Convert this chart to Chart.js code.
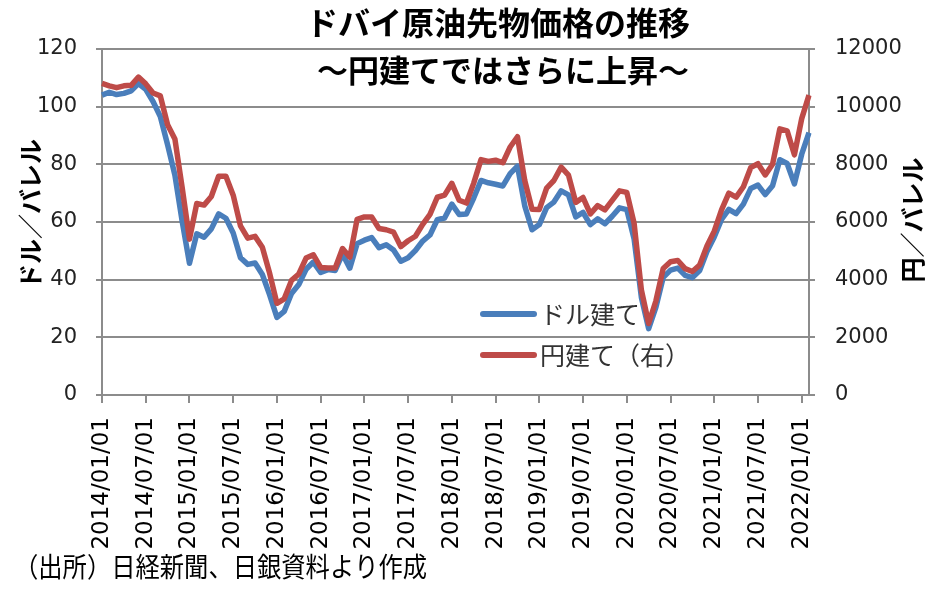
<!DOCTYPE html>
<html>
<head>
<meta charset="utf-8">
<script src="https://cdn.jsdelivr.net/npm/chart.js@4/dist/chart.umd.min.js"></script>
<style>
  body { margin: 0; background: #fff; }
</style>
</head>
<body>
<canvas id="chart" width="946" height="595"></canvas>
<script>
// monthly averages, 2014/01 .. 2022/02
const startYear = 2014;
const usdPrice = [
  104.0, 105.0, 104.2, 104.6, 105.5, 108.0, 106.0, 101.8, 96.6, 86.8, 76.3, 60.2,
  45.7, 55.9, 54.7, 57.6, 62.8, 61.3, 56.2, 47.6, 45.3, 45.8, 41.8, 34.7,
  26.9, 29.0, 35.2, 38.3, 43.6, 46.1, 42.5, 43.5, 43.2, 48.9, 44.0, 52.5,
  53.7, 54.6, 51.1, 52.1, 50.3, 46.4, 47.6, 50.1, 53.4, 55.5, 60.8, 61.4,
  66.2, 62.6, 62.8, 68.3, 74.4, 73.6, 73.1, 72.5, 76.8, 79.4, 65.6, 57.3,
  59.1, 65.0, 66.9, 70.8, 69.4, 61.8, 63.3, 59.1, 61.1, 59.4, 62.0, 64.9,
  64.3, 54.2, 33.9, 23.0, 30.5, 40.8, 43.3, 44.0, 41.5, 40.7, 43.2, 49.8,
  54.8, 60.9, 64.4, 62.9, 66.2, 71.6, 72.8, 69.5, 72.6, 81.6, 80.3, 73.2,
  83.5, 91.0
];
const yenPrice = [
  10806, 10721, 10660, 10722, 10740, 11027, 10791, 10475, 10375, 9374, 8881, 7188,
  5406, 6641, 6586, 6883, 7586, 7583, 6929, 5864, 5441, 5501, 5125, 4220,
  3180, 3335, 3974, 4198, 4748, 4864, 4424, 4407, 4402, 5081, 4778, 6095,
  6176, 6170, 5774, 5731, 5649, 5146, 5350, 5506, 5917, 6266, 6858, 6932,
  7342, 6755, 6657, 7349, 8162, 8103, 8143, 8055, 8602, 8956, 7439, 6441,
  6436, 7176, 7439, 7901, 7627, 6681, 6849, 6282, 6568, 6421, 6752, 7081,
  7028, 5962, 3648, 2479, 3270, 4390, 4624, 4664, 4382, 4282, 4510, 5169,
  5683, 6419, 7000, 6862, 7222, 7883, 8023, 7631, 8001, 9229, 9162, 8330,
  9586, 10400
];

const titleLines = ["ドバイ原油先物価格の推移", "～円建てではさらに上昇～"];
const leftTitle = "ドル／バレル";
const rightTitle = "円／バレル";
const footerText = "（出所）日経新聞、日銀資料より作成";

const months = [];
for (let i = 0; i < usdPrice.length; i++) {
  const y = startYear + Math.floor(i / 12);
  const m = String((i % 12) + 1).padStart(2, "0");
  months.push(`${y}/${m}/01`);
}

const gridGray = "#8c8c8c";
const cjk = "'Noto Sans CJK JP'";

const overlay = {
  id: "overlay",
  afterDraw(chart) {
    const ctx = chart.ctx;
    ctx.save();

    // title
    ctx.fillStyle = "#000";
    ctx.textAlign = "center";
    ctx.textBaseline = "middle";
    ctx.font = `bold 32px ${cjk}`;
    ctx.fillText(titleLines[0], 498, 23);
    ctx.font = `bold 31px ${cjk}`;
    ctx.fillText(titleLines[1], 503, 70);

    // axis titles
    ctx.font = `bold 25px ${cjk}`;
    ctx.save();
    ctx.translate(30, 214);
    ctx.rotate(-Math.PI / 2);
    ctx.fillText(leftTitle, 0, 0);
    ctx.restore();
    ctx.save();
    ctx.translate(912, 220);
    ctx.rotate(-Math.PI / 2);
    ctx.fillText(rightTitle, 0, 0);
    ctx.restore();

    // legend
    chart.data.datasets.forEach((ds, i) => {
      const y = 314 + i * 41;
      ctx.strokeStyle = ds.borderColor;
      ctx.lineWidth = 6;
      ctx.lineCap = "round";
      ctx.beginPath();
      ctx.moveTo(483, y);
      ctx.lineTo(534, y);
      ctx.stroke();
      ctx.fillStyle = "#333";
      ctx.textAlign = "left";
      ctx.font = `25px ${cjk}`;
      ctx.fillText(ds.label, 540, y);
    });

    // source note
    ctx.fillStyle = "#000";
    ctx.textAlign = "left";
    ctx.textBaseline = "alphabetic";
    ctx.font = `27px ${cjk}`;
    ctx.translate(14, 577);
    ctx.scale(0.9, 1);
    ctx.fillText(footerText, 0, 0);

    ctx.restore();
  }
};

const ctx = document.getElementById("chart").getContext("2d");

new Chart(ctx, {
  type: "line",
  data: {
    labels: months,
    datasets: [
      {
        label: "ドル建て",
        data: usdPrice,
        yAxisID: "y",
        borderColor: "#4a7ebb",
        borderWidth: 5.5,
        pointRadius: 0,
        tension: 0,
        borderJoinStyle: "round",
        order: 1
      },
      {
        label: "円建て（右）",
        data: yenPrice,
        yAxisID: "y2",
        borderColor: "#be4b48",
        borderWidth: 5.5,
        pointRadius: 0,
        tension: 0,
        borderJoinStyle: "round",
        order: 0
      }
    ]
  },
  options: {
    responsive: false,
    animation: false,
    layout: { padding: { top: 49, left: 0, right: 0, bottom: 0 } },
    plugins: {
      legend: { display: false },
      title: { display: false },
      tooltip: { enabled: false }
    },
    scales: {
      x: {
        type: "category",
        offset: false,
        afterBuildTicks: (axis) => {
          axis.ticks = axis.ticks.filter((t) => t.value % 6 === 0);
        },
        afterFit: (axis) => { axis.height = 200; },
        grid: { drawOnChartArea: false, color: gridGray, lineWidth: 2, tickLength: 8 },
        border: { color: gridGray, width: 2 },
        ticks: {
          autoSkip: false,
          maxRotation: 90,
          minRotation: 90,
          padding: 14,
          color: "#000",
          font: { family: "DejaVu Sans", size: 23 }
        }
      },
      y: {
        position: "left",
        min: 0,
        max: 120,
        afterFit: (axis) => { axis.width = 102; },
        grid: { color: gridGray, lineWidth: 2, tickLength: 6 },
        border: { color: gridGray, width: 2 },
        ticks: { stepSize: 20, padding: 19, color: "#222", font: { family: "DejaVu Sans", size: 21 } }
      },
      y2: {
        position: "right",
        min: 0,
        max: 12000,
        afterFit: (axis) => { axis.width = 137; },
        grid: { drawOnChartArea: false, color: gridGray, lineWidth: 2, tickLength: 6 },
        border: { color: gridGray, width: 2 },
        ticks: {
          stepSize: 2000,
          padding: 20,
          color: "#222",
          font: { family: "DejaVu Sans", size: 21 },
          callback: (v) => String(v)
        }
      }
    }
  },
  plugins: [overlay]
});
</script>
</body>
</html>
